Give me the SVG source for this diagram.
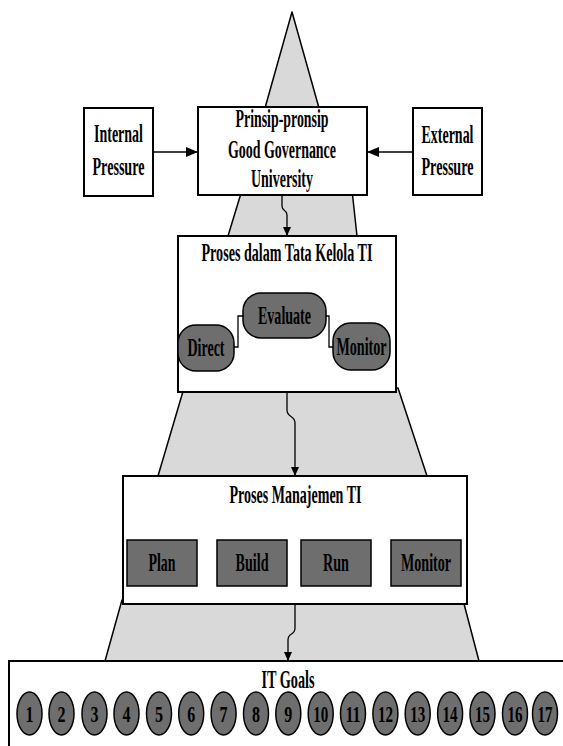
<svg xmlns="http://www.w3.org/2000/svg" width="563" height="746" viewBox="0 0 563 746">
<defs>
<style>
.bg{fill:#d9d9d9;stroke:#000;stroke-width:1.5;stroke-linejoin:round}
.box{fill:#fff;stroke:#000;stroke-width:2}
.dark{fill:#6e6e6e;stroke:#000;stroke-width:1.5}
.t{font-family:"Liberation Serif","Times New Roman",serif;font-weight:bold;font-size:25px;text-anchor:middle;fill:#000}
.d{font-family:"Liberation Serif","Times New Roman",serif;font-weight:bold;font-size:24px;text-anchor:middle;fill:#000}
.conn{fill:none;stroke:#000;stroke-width:1.3}
</style>
<marker id="big" markerUnits="userSpaceOnUse" markerWidth="12" markerHeight="10" refX="12" refY="5" orient="auto"><path d="M0,0 L12,5 L0,10 z" fill="#000"/></marker>
<marker id="sm" markerUnits="userSpaceOnUse" markerWidth="9" markerHeight="8" refX="9" refY="4" orient="auto"><path d="M0,0 L9,4 L0,8 z" fill="#000"/></marker>
</defs>
<g id="background">
<polygon class="bg" points="292,12 265,108 319,108"/>
<polygon class="bg" points="242,190 352,190 357,236 228,236"/>
<polygon class="bg" points="184,388 398,388 427,476 158,476"/>
<polygon class="bg" points="122,600 463,600 479,661 105,661"/>
</g>
<g id="internal">
<rect class="box" x="84" y="108" width="69" height="88"/>
<text class="t" x="118.5" y="142" textLength="49" lengthAdjust="spacingAndGlyphs">Internal</text>
<text class="t" x="118.5" y="175" textLength="52" lengthAdjust="spacingAndGlyphs">Pressure</text>
</g>
<g id="principles">
<rect class="box" x="198" y="107" width="169" height="88"/>
<text class="t" x="282" y="127" textLength="93" lengthAdjust="spacingAndGlyphs">Prinsip-pronsip</text>
<text class="t" x="282" y="158" textLength="108" lengthAdjust="spacingAndGlyphs">Good Governance</text>
<text class="t" x="282" y="187" textLength="62" lengthAdjust="spacingAndGlyphs">University</text>
</g>
<g id="external">
<rect class="box" x="413" y="108" width="69" height="87"/>
<text class="t" x="447.5" y="143" textLength="52" lengthAdjust="spacingAndGlyphs">External</text>
<text class="t" x="447.5" y="175" textLength="52" lengthAdjust="spacingAndGlyphs">Pressure</text>
</g>
<g id="tata-kelola">
<rect class="box" x="178" y="236" width="218" height="156"/>
<text class="t" x="287" y="261" textLength="171" lengthAdjust="spacingAndGlyphs">Proses dalam Tata Kelola TI</text>
</g>
<g id="evaluate">
<rect class="dark" x="243" y="293" width="83" height="45" rx="18"/>
<text class="t" x="284.5" y="324" textLength="53" lengthAdjust="spacingAndGlyphs">Evaluate</text>
</g>
<g id="direct">
<rect class="dark" x="178" y="325" width="56" height="46" rx="18"/>
<text class="t" x="206" y="356" textLength="37" lengthAdjust="spacingAndGlyphs">Direct</text>
</g>
<g id="monitor-gov">
<rect class="dark" x="333" y="323" width="57" height="47" rx="18"/>
<text class="t" x="361.5" y="355" textLength="50" lengthAdjust="spacingAndGlyphs">Monitor</text>
</g>
<g id="manajemen">
<rect class="box" x="123" y="476" width="344" height="128"/>
<text class="t" x="295.5" y="503" textLength="132" lengthAdjust="spacingAndGlyphs">Proses Manajemen TI</text>
</g>
<g id="plan">
<rect class="dark" x="127" y="540" width="70" height="46"/>
<text class="t" x="162" y="571" textLength="27" lengthAdjust="spacingAndGlyphs">Plan</text>
</g>
<g id="build">
<rect class="dark" x="217" y="540" width="70" height="46"/>
<text class="t" x="252" y="571" textLength="33" lengthAdjust="spacingAndGlyphs">Build</text>
</g>
<g id="run">
<rect class="dark" x="301" y="540" width="70" height="46"/>
<text class="t" x="336" y="571" textLength="26" lengthAdjust="spacingAndGlyphs">Run</text>
</g>
<g id="monitor-mgmt">
<rect class="dark" x="391" y="540" width="70" height="46"/>
<text class="t" x="426" y="571" textLength="50" lengthAdjust="spacingAndGlyphs">Monitor</text>
</g>
<g id="it-goals">
<rect class="box" x="9" y="661" width="600" height="100"/>
<text class="t" x="288" y="688" textLength="53" lengthAdjust="spacingAndGlyphs">IT Goals</text>
</g>
<g id="goals">
<g id="g1"><ellipse class="dark" cx="29.5" cy="713.5" rx="12.5" ry="21.5"/><text class="d" x="29.5" y="722" textLength="8" lengthAdjust="spacingAndGlyphs">1</text></g>
<g id="g2"><ellipse class="dark" cx="61.5" cy="713.5" rx="12.5" ry="21.5"/><text class="d" x="61.5" y="722" textLength="8" lengthAdjust="spacingAndGlyphs">2</text></g>
<g id="g3"><ellipse class="dark" cx="94.5" cy="713.5" rx="12.5" ry="21.5"/><text class="d" x="94.5" y="722" textLength="8" lengthAdjust="spacingAndGlyphs">3</text></g>
<g id="g4"><ellipse class="dark" cx="126.5" cy="713.5" rx="12.5" ry="21.5"/><text class="d" x="126.5" y="722" textLength="8" lengthAdjust="spacingAndGlyphs">4</text></g>
<g id="g5"><ellipse class="dark" cx="159" cy="713.5" rx="12.5" ry="21.5"/><text class="d" x="159" y="722" textLength="8" lengthAdjust="spacingAndGlyphs">5</text></g>
<g id="g6"><ellipse class="dark" cx="191.2" cy="713.5" rx="12.5" ry="21.5"/><text class="d" x="191.2" y="722" textLength="8" lengthAdjust="spacingAndGlyphs">6</text></g>
<g id="g7"><ellipse class="dark" cx="223.6" cy="713.5" rx="12.5" ry="21.5"/><text class="d" x="223.6" y="722" textLength="8" lengthAdjust="spacingAndGlyphs">7</text></g>
<g id="g8"><ellipse class="dark" cx="256" cy="713.5" rx="12.5" ry="21.5"/><text class="d" x="256" y="722" textLength="8" lengthAdjust="spacingAndGlyphs">8</text></g>
<g id="g9"><ellipse class="dark" cx="288.3" cy="713.5" rx="12.5" ry="21.5"/><text class="d" x="288.3" y="722" textLength="8" lengthAdjust="spacingAndGlyphs">9</text></g>
<g id="g10"><ellipse class="dark" cx="320.7" cy="713.5" rx="12.5" ry="21.5"/><text class="d" x="320.7" y="722" textLength="15" lengthAdjust="spacingAndGlyphs">10</text></g>
<g id="g11"><ellipse class="dark" cx="353" cy="713.5" rx="12.5" ry="21.5"/><text class="d" x="353" y="722" textLength="15" lengthAdjust="spacingAndGlyphs">11</text></g>
<g id="g12"><ellipse class="dark" cx="385.4" cy="713.5" rx="12.5" ry="21.5"/><text class="d" x="385.4" y="722" textLength="15" lengthAdjust="spacingAndGlyphs">12</text></g>
<g id="g13"><ellipse class="dark" cx="417.7" cy="713.5" rx="12.5" ry="21.5"/><text class="d" x="417.7" y="722" textLength="15" lengthAdjust="spacingAndGlyphs">13</text></g>
<g id="g14"><ellipse class="dark" cx="450.1" cy="713.5" rx="12.5" ry="21.5"/><text class="d" x="450.1" y="722" textLength="15" lengthAdjust="spacingAndGlyphs">14</text></g>
<g id="g15"><ellipse class="dark" cx="482.5" cy="713.5" rx="12.5" ry="21.5"/><text class="d" x="482.5" y="722" textLength="15" lengthAdjust="spacingAndGlyphs">15</text></g>
<g id="g16"><ellipse class="dark" cx="515" cy="713.5" rx="12.5" ry="21.5"/><text class="d" x="515" y="722" textLength="15" lengthAdjust="spacingAndGlyphs">16</text></g>
<g id="g17"><ellipse class="dark" cx="545" cy="713.5" rx="12.5" ry="21.5"/><text class="d" x="545" y="722" textLength="15" lengthAdjust="spacingAndGlyphs">17</text></g>
</g>
<g id="connectors">
<line class="conn" x1="153" y1="152" x2="198" y2="152" marker-end="url(#big)"/>
<line class="conn" x1="413" y1="152" x2="367" y2="152" marker-end="url(#big)"/>
<path class="conn" d="M282,195 V206 Q282,209 284.5,210.5 Q287,212 287,215 V236" marker-end="url(#sm)"/>
<polyline class="conn" points="234,347 238,347 238,316 243,316"/>
<polyline class="conn" points="326,316 329,316 329,347 333,347"/>
<path class="conn" d="M287,392 V410 Q287,414 291,416.5 Q295,419 295,423 V476" marker-end="url(#sm)"/>
<path class="conn" d="M295,604 V628 Q295,632 291.5,634 Q288,636 288,640 V661" marker-end="url(#sm)"/>
</g>
</svg>
